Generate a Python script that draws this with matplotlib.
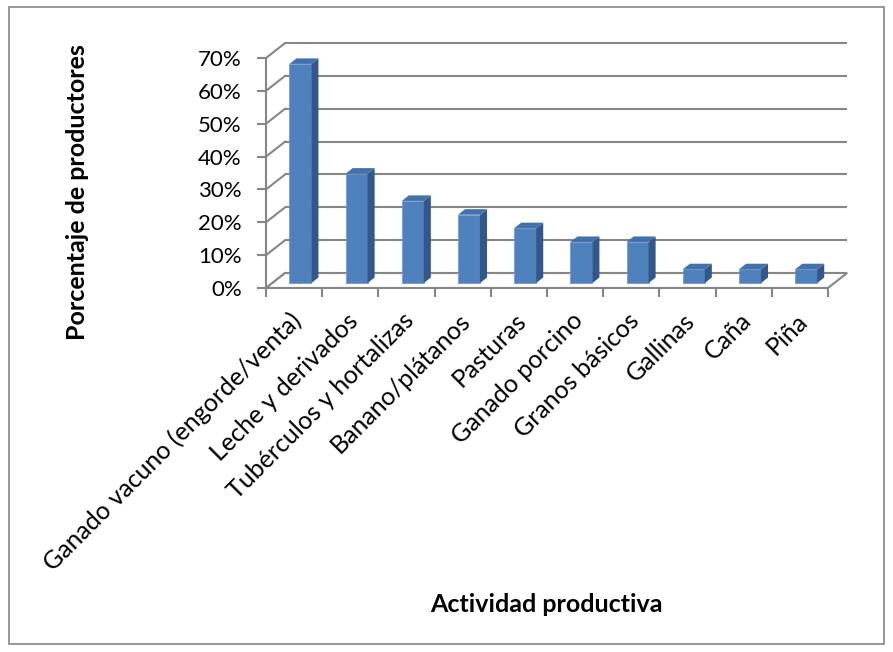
import numpy as np
import matplotlib
matplotlib.use("Agg")
import matplotlib.pyplot as plt
from matplotlib.patches import Polygon, Rectangle
from matplotlib.ticker import FuncFormatter

plt.rcParams['font.family'] = ['Lato', 'DejaVu Sans']

categories = ["Ganado vacuno (engorde/venta)", "Leche y derivados",
              "Tubérculos y hortalizas", "Banano/plátanos", "Pasturas",
              "Ganado porcino", "Granos básicos", "Gallinas", "Caña", "Piña"]
values = [66.7, 33.3, 25.0, 20.8, 16.7, 12.5, 12.5, 4.2, 4.2, 4.2]
yticks = [0, 10, 20, 30, 40, 50, 60, 70]

# oblique "3D" look: depth offset in data units
DX, DY = 0.34, 4.56
F0, DEPTH = 0.33, 0.37
W = 0.39
grid_c = '#868686'
front_c, side_c, top_c = '#4F81BD', '#33578A', '#4371AB'

fig = plt.figure(figsize=(8.93, 6.52), dpi=100)
ax = fig.add_axes([266/893, 364/652, 595.7/893, 249.7/652])
ax.set_xlim(-0.5, 10.1)
ax.set_ylim(0, 76)
n = len(categories)
x0, x1 = -0.5, n - 0.5

# back wall gridlines and side wall diagonals
for t in yticks:
    ax.plot([x0 + DX, x1 + DX], [t + DY, t + DY], color=grid_c, lw=1.5, zorder=1,
            solid_capstyle='butt')
    ax.plot([x0, x0 + DX], [t, t + DY], color=grid_c, lw=1.5, zorder=1)

# floor
floor = Polygon([(x0, 0), (x1, 0), (x1 + DX, DY), (x0 + DX, DY)], closed=True,
                facecolor='white', edgecolor=grid_c, lw=1.5, zorder=2)
ax.add_patch(floor)

# bars
xs = np.arange(n)
b = F0 * DY
ax.bar(xs + F0 * DX, values, width=W, bottom=b, color=front_c, zorder=3,
       edgecolor='#6A95C8', linewidth=0.5)
for xi, v in zip(xs, values):
    xl = xi + F0 * DX - W / 2
    xr = xl + W
    ddx, ddy = DEPTH * DX, DEPTH * DY
    top = b + v
    ax.add_patch(Polygon([(xr, b), (xr + ddx, b + ddy), (xr + ddx, top + ddy), (xr, top)],
                         closed=True, facecolor=side_c, edgecolor='none', zorder=3))
    ax.add_patch(Polygon([(xl, top), (xr, top), (xr + ddx, top + ddy), (xl + ddx, top + ddy)],
                         closed=True, facecolor=top_c, edgecolor='none', zorder=3))

# axes styling
for s in ['top', 'right']:
    ax.spines[s].set_visible(False)
ax.spines['left'].set_bounds(0, 70)
ax.spines['bottom'].set_bounds(x0, x1)
for s in ['left', 'bottom']:
    ax.spines[s].set_color(grid_c)
    ax.spines[s].set_linewidth(1.5)
ax.spines['bottom'].set_zorder(4)

ax.set_yticks(yticks)
ax.yaxis.set_major_formatter(FuncFormatter(lambda v, p: f"{int(v)}%"))
ax.tick_params(axis='y', length=6.5, width=1.5, color=grid_c, pad=11, labelsize=16)

ax.set_xticks(xs - 0.08)
ax.set_xticklabels(categories, rotation=45, ha='right', rotation_mode='anchor', fontsize=18)
ax.set_xticks(np.arange(n + 1) - 0.5, minor=True)
ax.tick_params(axis='x', which='major', length=0, pad=15)
ax.tick_params(axis='x', which='minor', length=6.5, width=1.5, color=grid_c)

fig.text(78/893, 1 - 192/652, "Porcentaje de productores", rotation=90,
         ha='center', va='center', fontsize=18, fontweight='bold')
fig.text(546/893, 1 - 604/652, "Actividad productiva", ha='center', va='center',
         fontsize=18, fontweight='bold')

fig.patches.append(Rectangle((9/893, 8/652), 875/893, 637/652, transform=fig.transFigure,
                             fill=False, edgecolor=grid_c, lw=1.2))

fig.savefig("out.png", dpi=100)
